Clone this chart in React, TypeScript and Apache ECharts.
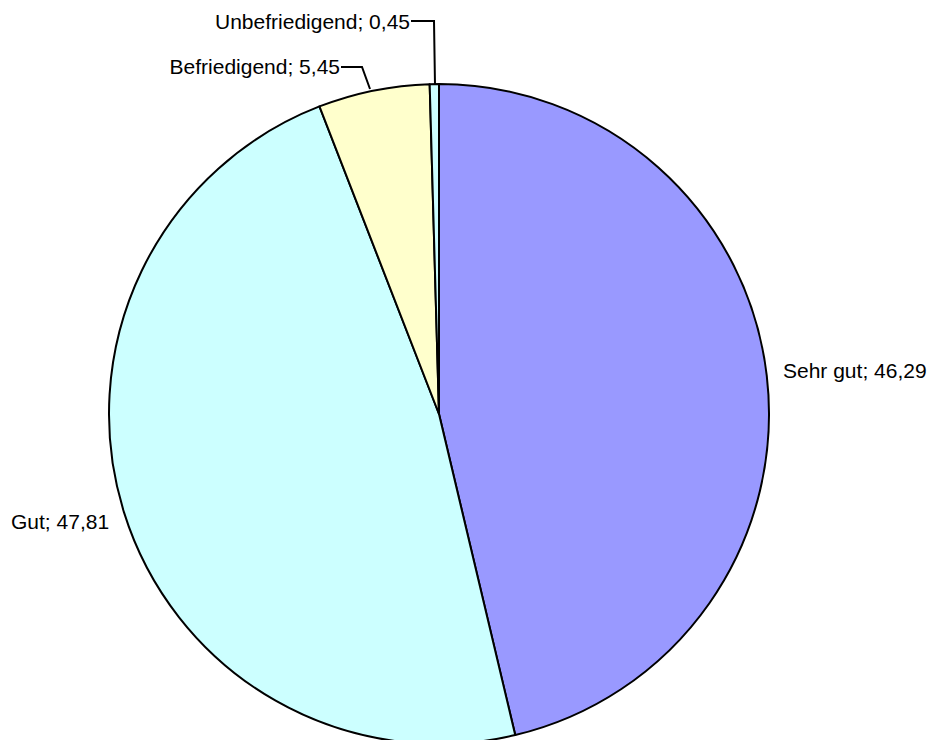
import React, { useEffect, useRef } from "react";
import * as echarts from "echarts";

const categories = ["Sehr gut", "Gut", "Befriedigend", "Unbefriedigend"];
const values = [46.29, 47.81, 5.45, 0.45];
const colors = ["#9999FF", "#CCFFFF", "#FFFFCC", "#CCFFFF"];

// label placement (layout only)
const labelPos = [
  { x: 783, y: 370, align: "left", line: null },
  { x: 11, y: 521, align: "left", line: null },
  { x: 340, y: 66, align: "right", line: [[341, 67], [362, 67], [370, 89]] },
  { x: 410, y: 21, align: "right", line: [[411, 21], [434, 21], [435, 85]] },
];

const fmt = (v: number) => v.toFixed(2).replace(".", ",");

export default function App() {
  const ref = useRef<HTMLDivElement>(null);
  useEffect(() => {
    if (!ref.current) return;
    const chart = echarts.init(ref.current, undefined, { renderer: "svg" });
    chart.setOption({
      animation: false,
      backgroundColor: "#ffffff",
      series: [
        {
          type: "pie",
          center: [439, 414],
          radius: 330,
          startAngle: 90,
          clockwise: true,
          avoidLabelOverlap: false,
          itemStyle: { borderColor: "#000000", borderWidth: 2 },
          emphasis: { disabled: true },
          label: {
            show: true,
            position: "outside",
            color: "#000000",
            fontFamily: "'Liberation Sans', Arial, sans-serif",
            fontSize: 21,
            formatter: (p: any) => `${p.name}; ${fmt(p.value)}`,
          },
          labelLine: { show: false, lineStyle: { color: "#000000", width: 2 } },
          labelLayout: (params: any) => {
            const lp = labelPos[params.dataIndex];
            const res: any = {
              x: lp.x,
              y: lp.y,
              align: lp.align,
              verticalAlign: "middle",
            };
            if (lp.line) res.labelLinePoints = lp.line;
            return res;
          },
          data: categories.map((name, i) => ({
            name,
            value: values[i],
            itemStyle: { color: colors[i] },
            labelLine: { show: i >= 2 },
          })),
        },
      ],
    });
    return () => chart.dispose();
  }, []);
  return (
    <div
      ref={ref}
      style={{ position: "absolute", left: 0, top: 0, width: 947, height: 740 }}
    />
  );
}
